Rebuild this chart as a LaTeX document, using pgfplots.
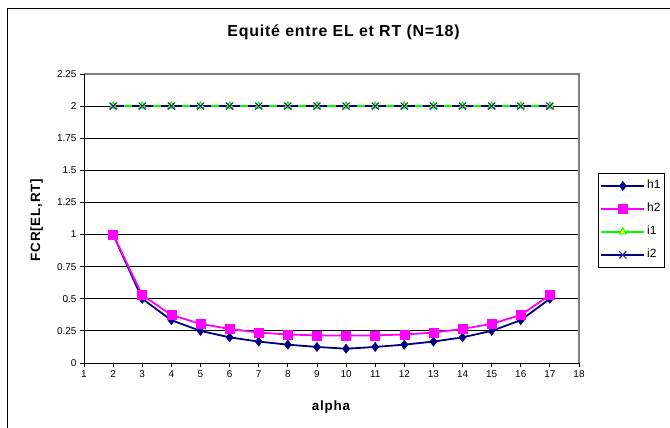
\documentclass[border=0pt]{standalone}
\usepackage{pgfplots}
\pgfplotsset{compat=1.18}
\usepackage{fontspec}
\setmainfont{Liberation Sans}
\definecolor{navyc}{RGB}{0,0,128}
\definecolor{magc}{RGB}{255,0,255}
\definecolor{limec}{RGB}{0,255,0}
\definecolor{yelc}{RGB}{255,255,0}
\definecolor{xblue}{RGB}{40,40,150}
\definecolor{pgray}{RGB}{128,128,128}
\begin{document}
\begin{tikzpicture}[x=1bp,y=1bp]
\useasboundingbox (0,0) rectangle (670,427);
\draw[line width=1.3bp] (7.5,-20) -- (7.5,418.5) -- (700,418.5);
\node[font=\bfseries\fontsize{16}{18}\selectfont\addfontfeatures{LetterSpace=5}, anchor=base] at (343.5,390) {Equité entre EL et RT (N=18)};
\node[font=\bfseries\fontsize{13.5}{16}\selectfont\addfontfeatures{LetterSpace=6}, anchor=base] at (331,17) {alpha};
\node[font=\bfseries\fontsize{13.5}{16}\selectfont\addfontfeatures{LetterSpace=6}, anchor=base, rotate=90] at (40,207) {FCR[EL,RT]};
\begin{axis}[
  at={(84bp,64bp)}, anchor=south west,
  width=495bp, height=289bp, scale only axis,
  xmin=1, xmax=18, ymin=0, ymax=2.25,
  xtick={1,2,3,4,5,6,7,8,9,10,11,12,13,14,15,16,17,18},
  xticklabels={1,2,3,4,5,6,7,8,9,10,11,12,13,14,15,16,17,18},
  ytick={0,0.25,0.5,0.75,1,1.25,1.5,1.75,2,2.25},
  yticklabels={0,0.25,0.5,0.75,1,1.25,1.5,1.75,2,2.25},
  xtick pos=bottom, ytick pos=left,
  tick align=outside, major tick length=4bp,
  tick style={black, line width=0.8bp},
  ticklabel style={font=\fontsize{10}{11}\selectfont},
  ymajorgrids, grid style={black, line width=0.8bp},
  axis line style={draw=none},
  clip=false,
  legend style={at={(1.0384,0.6574)}, anchor=north west, draw=black, line width=0.8bp,
    font=\fontsize{12}{14}\selectfont, cells={anchor=west},
    nodes={inner sep=2bp, text height=8.5bp, text depth=2.5bp},
    row sep=8bp, inner xsep=2bp, inner ysep=5bp},
  legend image code/.code={\draw[mark repeat=2,mark phase=2] plot coordinates {(0bp,0bp)(21.5bp,0bp)(43bp,0bp)};},
]
\addplot[navyc, line width=1.8bp, mark=diamond*, mark size=4.6bp, mark options={solid, fill=navyc, line width=0.5bp}] coordinates {
(2,1) (3,0.5) (4,0.3333) (5,0.25) (6,0.2) (7,0.1667) (8,0.1429) (9,0.125)
(10,0.1111) (11,0.125) (12,0.1429) (13,0.1667) (14,0.2) (15,0.25) (16,0.3333) (17,0.5)};
\addlegendentry{h1}
\addplot[magc, line width=1.8bp, mark=square*, mark size=4.5bp, mark options={solid, fill=magc, line width=0.5bp}] coordinates {
(2,1) (3,0.529) (4,0.374) (5,0.305) (6,0.265) (7,0.237) (8,0.222) (9,0.215)
(10,0.213) (11,0.215) (12,0.222) (13,0.237) (14,0.265) (15,0.305) (16,0.374) (17,0.529)};
\addlegendentry{h2}
\addplot[limec, line width=1.8bp, mark=triangle*, mark size=4.2bp, mark options={solid, fill=yelc, draw=limec, line width=0.9bp}] coordinates {
(2,2) (3,2) (4,2) (5,2) (6,2) (7,2) (8,2) (9,2)
(10,2) (11,2) (12,2) (13,2) (14,2) (15,2) (16,2) (17,2)};
\addlegendentry{i1}
\addplot[navyc, line width=1.8bp, dash pattern=on 21bp off 8.12bp, dash phase=10.5bp, mark=x, mark size=5bp, mark options={solid, draw=xblue, line width=1.1bp},
  legend image code/.code={\draw[solid,mark repeat=2,mark phase=2] plot coordinates {(0bp,0bp)(21.5bp,0bp)(43bp,0bp)};}] coordinates {
(2,2) (3,2) (4,2) (5,2) (6,2) (7,2) (8,2) (9,2)
(10,2) (11,2) (12,2) (13,2) (14,2) (15,2) (16,2) (17,2)};
\addlegendentry{i2}
\draw[pgray, line width=1.5bp] (rel axis cs:0,1) -- (rel axis cs:1,1) -- (rel axis cs:1,0);
\draw[black, line width=1bp] (rel axis cs:0,1) -- (rel axis cs:0,0) -- (rel axis cs:1,0);
\end{axis}
\end{tikzpicture}
\end{document}
